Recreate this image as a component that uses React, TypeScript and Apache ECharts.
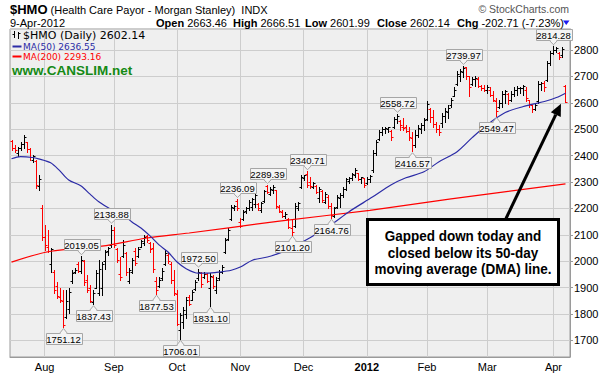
import React, { useEffect, useRef } from "react";
import * as echarts from "echarts";

const FONT = "'Liberation Sans', Arial, sans-serif";
const VFONT = "'DejaVu Sans', Verdana, sans-serif";

// [open, high, low, close] for each trading day, grouped by month
const julBars = [
  [2455, 2460, 2422, 2430], [2430, 2441, 2415, 2420], [2410, 2434, 2400, 2428], [2428, 2453, 2422, 2445],
  [2445, 2479, 2430, 2470], [2450, 2453, 2415, 2425], [2425, 2430, 2384, 2395], [2385, 2403, 2377, 2398],
  [2380, 2384, 2278, 2290], [2285, 2327, 2270, 2310], [2200, 2213, 2080, 2090],
];
const augBars = [
  [2090, 2137, 2042, 2060], [2055, 2120, 2035, 2040], [1990, 2050, 1958, 2045], [1960, 1966, 1879, 1890],
  [1905, 1920, 1860, 1870], [1865, 1900, 1845, 1855], [1850, 1890, 1751.12, 1760], [1790, 1890, 1787, 1850],
  [1820, 1898, 1806, 1885], [1925, 1966, 1917, 1955], [1960, 1974, 1955, 1968], [1990, 1997, 1958, 1962],
  [1965, 2019.05, 1955, 2005], [2000, 2004, 1909, 1920], [1930, 1947, 1882, 1890], [1900, 1909, 1844, 1850],
  [1845, 1890, 1837.43, 1880], [1900, 1966, 1898, 1955], [1880, 2004, 1871, 1970], [1900, 1997, 1871, 1990],
  [2000, 2042, 1970, 2035], [2040, 2054, 2023, 2050], [2060, 2138.88, 2054, 2120],
];
const sepBars = [
  [2120, 2130, 2054, 2060], [2045, 2050, 1997, 2005], [1950, 2015, 1928, 1940], [2020, 2080, 2015, 2060],
  [2030, 2035, 1947, 1960], [1925, 1974, 1917, 1968], [1960, 2012, 1955, 2005], [2040, 2050, 1985, 1995],
  [2020, 2054, 2015, 2045], [2055, 2080, 2054, 2075], [2070, 2099, 2061, 2090], [2095, 2099, 2073, 2080],
  [2070, 2073, 2035, 2045], [2050, 2069, 1958, 1970], [1925, 1940, 1877.53, 1890], [1905, 1940, 1902, 1930],
  [1935, 1974, 1928, 1965], [1990, 2042, 1985, 2030], [2025, 2031, 1993, 2000], [1990, 1997, 1917, 1930],
  [1930, 1966, 1871, 1880],
];
const octBars = [
  [1875, 1890, 1757, 1762], [1740, 1803, 1706.01, 1795], [1770, 1825, 1749, 1815], [1800, 1863, 1787, 1855],
  [1865, 1871, 1833, 1840], [1855, 1890, 1852, 1885], [1895, 1928, 1890, 1920], [1935, 1972.5, 1928, 1960],
  [1955, 1958, 1902, 1915], [1940, 1958, 1936, 1950], [1950, 1955, 1920, 1925], [1900, 1955, 1831.1, 1945],
  [1940, 1947, 1898, 1905], [1890, 1940, 1879, 1930], [1935, 1966, 1928, 1960], [1960, 1985, 1955, 1980],
  [2035, 2088, 2031, 2080], [2085, 2126, 2080, 2120], [2160, 2213, 2156, 2205], [2200, 2213, 2194, 2210],
  [2230, 2236.09, 2194, 2200],
];
const novBars = [
  [2150, 2164, 2130, 2135], [2160, 2194, 2156, 2185], [2190, 2206, 2183, 2200], [2200, 2232, 2194, 2225],
  [2205, 2240, 2194, 2235], [2215, 2259, 2206, 2250], [2215, 2221, 2194, 2200], [2195, 2225, 2187, 2220],
  [2230, 2270, 2225, 2265], [2285, 2289.39, 2259, 2262], [2255, 2282, 2251, 2275], [2270, 2287, 2259, 2280],
  [2270, 2270, 2202, 2210], [2205, 2213, 2187, 2190], [2185, 2194, 2168, 2172], [2170, 2187, 2164, 2180],
  [2160, 2164, 2126, 2130], [2125, 2156, 2101.2, 2110], [2135, 2221, 2130, 2210], [2200, 2225, 2194, 2220],
  [2280, 2327, 2278, 2320],
];
const decBars = [
  [2315, 2327, 2308, 2325], [2330, 2340.71, 2282, 2290], [2300, 2320, 2278, 2285], [2282, 2300, 2278, 2295],
  [2285, 2289, 2259, 2262], [2240, 2282, 2225, 2275], [2265, 2270, 2225, 2232], [2225, 2263, 2221, 2255],
  [2245, 2251, 2202, 2210], [2210, 2221, 2164.76, 2175], [2172, 2206, 2168, 2200], [2205, 2251, 2202, 2245],
  [2240, 2259, 2206, 2250], [2250, 2282, 2244, 2275], [2275, 2316, 2270, 2310], [2305, 2320, 2297, 2315],
  [2315, 2335, 2308, 2330], [2325, 2354, 2320, 2345], [2333, 2335, 2308, 2312], [2310, 2320, 2297, 2318],
  [2315, 2316, 2282, 2290],
];
const janBars = [
  [2295, 2320, 2293, 2310], [2310, 2327, 2301, 2322], [2345, 2422, 2339, 2410], [2410, 2460, 2403, 2450],
  [2462, 2498, 2460, 2490], [2490, 2510, 2479, 2502], [2500, 2510, 2487, 2505], [2500, 2510, 2491, 2508],
  [2495, 2498, 2460, 2470], [2510, 2548, 2506, 2540], [2540, 2558.72, 2525, 2550], [2530, 2536, 2498, 2515],
  [2510, 2544, 2498, 2505], [2510, 2517, 2491, 2495], [2495, 2510, 2460, 2470], [2465, 2491, 2416.57, 2440],
  [2440, 2498, 2434, 2480], [2480, 2517, 2472, 2505], [2500, 2525, 2487, 2515], [2515, 2544, 2498, 2535],
];
const febBars = [
  [2540, 2605, 2536, 2595], [2575, 2582, 2529, 2545], [2545, 2574, 2510, 2520], [2520, 2529, 2491, 2500],
  [2500, 2517, 2479, 2490], [2525, 2563, 2510, 2550], [2550, 2582, 2529, 2570], [2565, 2590, 2544, 2580],
  [2590, 2620, 2586, 2612], [2625, 2658, 2624, 2650], [2670, 2719, 2669, 2710], [2700, 2727, 2681, 2720],
  [2715, 2739.97, 2696, 2730], [2735, 2737, 2689, 2700], [2700, 2700, 2624, 2660], [2670, 2696, 2669, 2690],
  [2690, 2700, 2662, 2695], [2690, 2696, 2658, 2665], [2665, 2669, 2650, 2655], [2655, 2669, 2643, 2650],
];
const marBars = [
  [2650, 2669, 2639, 2660], [2650, 2658, 2624, 2630], [2630, 2643, 2605, 2610], [2605, 2620, 2549.47, 2570],
  [2585, 2612, 2582, 2600], [2600, 2643, 2586, 2635], [2635, 2650, 2601, 2645], [2635, 2639, 2594, 2610],
  [2612, 2643, 2605, 2635], [2635, 2658, 2624, 2650], [2650, 2662, 2631, 2655], [2655, 2658, 2639, 2657],
  [2655, 2669, 2631, 2665], [2650, 2658, 2605, 2620], [2610, 2612, 2586, 2595], [2593, 2593, 2567, 2575],
  [2578, 2601, 2574, 2592], [2605, 2681, 2601, 2670], [2670, 2677, 2650, 2675], [2675, 2681, 2643, 2660],
  [2685, 2757, 2681, 2750], [2750, 2795, 2745, 2790],
];
const aprBars = [
  [2790, 2814.28, 2784, 2800], [2800, 2812, 2791, 2808], [2788, 2791, 2765, 2775], [2780, 2810, 2772, 2804.85],
  [2663.46, 2666.51, 2601.99, 2602.14],
];

const monthBlocks = [julBars, augBars, sepBars, octBars, novBars, decBars, janBars, febBars, marBars, aprBars];
const monthNames = ["", "Aug", "Sep", "Oct", "Nov", "Dec", "2012", "Feb", "Mar", "Apr"];

// moving averages: [bar index, value]
const ma50Points = [
  [0, 2388], [3, 2396], [7, 2393], [9, 2388], [13, 2373], [16, 2343], [19, 2308], [23, 2286], [26, 2255],
  [29, 2225], [33, 2197], [36, 2185], [40, 2149], [43, 2126], [46, 2096], [49, 2062], [52, 2035], [55, 1997],
  [58, 1972], [62, 1955], [65, 1955], [69, 1959], [73, 1966], [76, 1978], [80, 2004], [85, 2016], [89, 2031],
  [92, 2046], [99, 2088], [106, 2137], [112, 2187], [120, 2244], [126, 2289], [131, 2316], [137, 2339],
  [142, 2377], [148, 2415], [153, 2468], [158, 2517], [164, 2563], [170, 2586], [174, 2597], [177, 2605],
  [181, 2620], [184, 2636.55],
];
const ma200Points = [
  [0, 1997], [13, 2038], [30, 2057], [45, 2088], [59, 2107], [89, 2152], [119, 2193], [146, 2236], [184, 2293.16],
];

// price callouts: [bar index, 1 = at the high / -1 = at the low]
const peakLabels = [
  [23, 1], [33, 1], [62, 1], [75, 1], [85, 1], [98, 1], [128, 1], [150, 1], [180, 1],
  [17, -1], [27, -1], [48, -1], [56, -1], [66, -1], [93, -1], [106, -1], [133, -1], [161, -1],
];

const headerQuote = { open: "2663.46", high: "2666.51", low: "2601.99", close: "2602.14", chg: "-202.71 (-7.23%)" };
const noteLines = ["Gapped down today and", "closed below its 50-day", "moving average (DMA) line."];

const bars = monthBlocks.flat();
const monthStarts: Record<number, string> = {};
{
  let n = 0;
  monthBlocks.forEach((b, i) => {
    if (i > 0) monthStarts[n] = monthNames[i];
    n += b.length;
  });
}
const categories = Array.from({ length: bars.length + 1 }, (_, i) => String(i));

export default function App() {
  const ref = useRef<HTMLDivElement>(null);
  useEffect(() => {
    if (!ref.current) return;
    const chart = echarts.init(ref.current, undefined, { renderer: "svg" });

    const ohlcData = bars.map((b, i) => {
      const prev = i > 0 ? bars[i - 1][3] : b[0];
      return [i, b[0], b[1], b[2], b[3], b[3] >= prev ? 1 : 0];
    });
    const labelData = peakLabels.map(([i, s]) => [i, s > 0 ? bars[i][1] : bars[i][2], s]);
    const isMonth = (i: number) => monthStarts[i] !== undefined;

    const option: any = {
      animation: false,
      backgroundColor: "#ffffff",
      grid: {
        left: 10, right: 35, top: 29, bottom: 19, show: true,
        backgroundColor: "#efefef", borderColor: "#9a9a9a", borderWidth: 1,
      },
      xAxis: {
        type: "category",
        data: categories,
        boundaryGap: true,
        axisLine: { show: true, lineStyle: { color: "#9a9a9a" } },
        axisTick: { show: false },
        axisLabel: {
          interval: (i: number) => isMonth(i),
          formatter: (_v: string, i: number) => (monthStarts[i] === "2012" ? "{b|2012}" : monthStarts[i] || ""),
          fontSize: 11, color: "#000", margin: 4, fontFamily: FONT,
          rich: { b: { fontWeight: "bold", fontSize: 11, fontFamily: FONT, color: "#000" } },
        },
        splitLine: { show: true, interval: (i: number) => isMonth(i), alignWithLabel: true, lineStyle: { color: "#cdcdcd", width: 1 } },
      },
      yAxis: {
        type: "value", position: "right", min: 1637.5, max: 2879.5, splitNumber: 12,
        axisLine: { show: true, lineStyle: { color: "#9a9a9a" } },
        axisTick: { show: true, length: 3, lineStyle: { color: "#9a9a9a" } },
        axisLabel: {
          showMinLabel: false, showMaxLabel: false, fontSize: 11, color: "#000", margin: 4, fontFamily: FONT,
          formatter: (v: number) => String(Math.round(v)),
        },
        splitLine: { show: true, lineStyle: { color: "#cdcdcd", width: 1 } },
      },
      series: [
        {
          type: "custom",
          name: "ohlc",
          z: 2,
          data: ohlcData,
          encode: { x: 0, y: [1, 2, 3, 4] },
          renderItem: (_p: any, api: any) => {
            const i = api.value(0);
            const ph = api.coord([i, api.value(2)]);
            const pl = api.coord([i, api.value(3)]);
            const po = api.coord([i, api.value(1)]);
            const pc = api.coord([i, api.value(4)]);
            const color = api.value(5) ? "#000000" : "#ff0000";
            const x = Math.round(ph[0]) + 0.5;
            const yo = Math.round(po[1]) + 0.5;
            const yc = Math.round(pc[1]) + 0.5;
            const st = { stroke: color, lineWidth: 1 };
            return {
              type: "group",
              children: [
                { type: "line", shape: { x1: x, y1: Math.round(ph[1]), x2: x, y2: Math.round(pl[1]) + 1 }, style: st },
                { type: "line", shape: { x1: x - 2, y1: yo, x2: x, y2: yo }, style: st },
                { type: "line", shape: { x1: x, y1: yc, x2: x + 2, y2: yc }, style: st },
              ],
            };
          },
        },
        {
          type: "line", name: "MA(200)", data: ma200Points, z: 3, showSymbol: false, smooth: 0.3,
          lineStyle: { color: "#ff0000", width: 1.2 },
        },
        {
          type: "line", name: "MA(50)", data: ma50Points, z: 3, showSymbol: false, smooth: 0.3,
          lineStyle: { color: "#2b2ba6", width: 1.2 },
        },
        {
          type: "custom",
          name: "callouts",
          z: 5,
          clip: false,
          data: labelData,
          encode: { x: 0, y: 1 },
          renderItem: (_p: any, api: any) => {
            const p = api.coord([api.value(0), api.value(1)]);
            const above = api.value(2) > 0;
            const txt = Number(api.value(1)).toFixed(2);
            const w = 36, h = 11;
            const cx = Math.round(p[0]) + 0.5;
            const base = above ? Math.round(p[1]) - 6 + 0.5 : Math.round(p[1]) + 6 + 0.5;
            const tip = above ? p[1] - 1.5 : p[1] + 1.5;
            const top = above ? base - h : base;
            return {
              type: "group",
              children: [
                { type: "rect", shape: { x: Math.round(cx - w / 2) + 0.5, y: top, width: w, height: h }, style: { fill: "#f4f4f4", stroke: "#a6a6a6", lineWidth: 1 } },
                { type: "polygon", shape: { points: [[cx - 4, base], [cx, tip], [cx + 4, base]] }, style: { fill: "#f4f4f4", stroke: "#a6a6a6", lineWidth: 1 } },
                { type: "line", shape: { x1: cx - 3, y1: base, x2: cx + 3, y2: base }, style: { stroke: "#f4f4f4", lineWidth: 1.2 } },
                { type: "text", x: cx, y: top + h / 2 + 0.5, style: { text: txt, fontSize: 9.5, fontFamily: FONT, fill: "#000", align: "center", verticalAlign: "middle" } },
              ],
            };
          },
        },
      ],
    };
    chart.setOption(option);

    const last = bars.length - 1;
    const tipPx = chart.convertToPixel({ xAxisIndex: 0, yAxisIndex: 0 }, [last, bars[last][2]]) as number[];
    const tip = [tipPx[0] - 4.5, tipPx[1] + 1.5];
    const boxX = 367.5, boxY = 219.5, boxW = 191, boxH = 65;
    const tail = [506, boxY - 1];
    const dx = tip[0] - tail[0], dy = tip[1] - tail[1];
    const len = Math.hypot(dx, dy);
    const ux = dx / len, uy = dy / len;
    const headL = 12, headW = 5.5;
    const bc = [tip[0] - ux * headL, tip[1] - uy * headL];
    const px = -uy, py = ux;

    const qx = [156, 233, 305, 377, 457];
    const qLabels = ["Open", "High", "Low", "Close", "Chg"];
    const qVals = [headerQuote.open, headerQuote.high, headerQuote.low, headerQuote.close, headerQuote.chg];

    const graphic: any[] = [
      {
        type: "text", x: 10, y: 9.5,
        style: {
          text: "{t|$HMO} (Health Care Payor - Morgan Stanley)  INDX", fontSize: 11, fontFamily: FONT, fill: "#000", verticalAlign: "middle",
          rich: { t: { fontSize: 13, fontWeight: "bold", fontFamily: FONT, fill: "#000" } },
        },
      },
      { type: "text", x: 569, y: 9, style: { text: "© StockCharts.com", fontSize: 10.5, fontFamily: FONT, fill: "#555", align: "right", verticalAlign: "middle" } },
      { type: "text", x: 10, y: 23, style: { text: "9-Apr-2012", fontSize: 11, fontFamily: FONT, fill: "#000", verticalAlign: "middle" } },
      ...qLabels.map((l, k) => ({
        type: "text", x: qx[k], y: 23,
        style: {
          text: `{b|${l}} ${qVals[k]}`, fontSize: 11, fontFamily: FONT, fill: "#000", verticalAlign: "middle",
          rich: { b: { fontWeight: "bold", fontSize: 11, fontFamily: FONT, fill: "#000" } },
        },
      })),
      { type: "polygon", shape: { points: [[563, 20.5], [569.5, 20.5], [566.25, 25]] }, style: { fill: "#1c1cf0" } },
      // legend
      { type: "line", shape: { x1: 14.5, y1: 31, x2: 14.5, y2: 38 }, style: { stroke: "#000", lineWidth: 1 } },
      { type: "line", shape: { x1: 12.5, y1: 34.5, x2: 14.5, y2: 34.5 }, style: { stroke: "#000", lineWidth: 1 } },
      { type: "line", shape: { x1: 18.5, y1: 32, x2: 18.5, y2: 39 }, style: { stroke: "#000", lineWidth: 1 } },
      { type: "line", shape: { x1: 18.5, y1: 33.5, x2: 20.5, y2: 33.5 }, style: { stroke: "#000", lineWidth: 1 } },
      { type: "text", x: 23, y: 35.5, style: { text: "$HMO (Daily) 2602.14", fontSize: 11, fontFamily: VFONT, fill: "#000", verticalAlign: "middle" } },
      { type: "line", shape: { x1: 12.5, y1: 46.5, x2: 21.5, y2: 46.5 }, style: { stroke: "#2b2ba6", lineWidth: 2 } },
      { type: "text", x: 23, y: 46.5, style: { text: "MA(50) 2636.55", fontSize: 9, fontFamily: VFONT, fill: "#2b2ba6", verticalAlign: "middle" } },
      { type: "line", shape: { x1: 12.5, y1: 56.5, x2: 21.5, y2: 56.5 }, style: { stroke: "#ff0000", lineWidth: 2 } },
      { type: "text", x: 23, y: 56.5, style: { text: "MA(200) 2293.16", fontSize: 9, fontFamily: VFONT, fill: "#ff0000", verticalAlign: "middle" } },
      { type: "text", x: 12, y: 70.5, style: { text: "www.CANSLIM.net", fontSize: 13.5, fontWeight: "bold", fontFamily: FONT, fill: "#158a15", verticalAlign: "middle" } },
      // note box
      { type: "rect", shape: { x: boxX, y: boxY, width: boxW, height: boxH }, style: { fill: "#ffffff", stroke: "#000", lineWidth: 3 }, z: 20 },
      ...noteLines.map((t, k) => ({
        type: "text", x: boxX + boxW / 2, y: 236 + k * 16.3, scaleX: 0.9, z: 21,
        style: { text: t, fontSize: 15, fontWeight: "bold", fontFamily: FONT, fill: "#000", align: "center", verticalAlign: "middle" },
      })),
      // arrow
      { type: "line", z: 20, shape: { x1: tail[0], y1: tail[1], x2: bc[0], y2: bc[1] }, style: { stroke: "#000", lineWidth: 3 } },
      { type: "polygon", z: 20, shape: { points: [[tip[0], tip[1]], [bc[0] + px * headW, bc[1] + py * headW], [bc[0] - px * headW, bc[1] - py * headW]] }, style: { fill: "#000" } },
    ];
    chart.setOption({ graphic });

    return () => chart.dispose();
  }, []);
  return <div ref={ref} style={{ position: "fixed", left: 0, top: 0, width: 605, height: 376 }} />;
}
